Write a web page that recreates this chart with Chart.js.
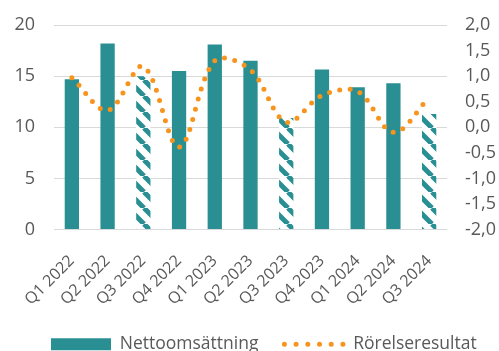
<!DOCTYPE html>
<html>
<head>
<meta charset="utf-8">
<script src="https://cdn.jsdelivr.net/npm/chart.js@4/dist/chart.umd.min.js"></script>
<style>
  html, body { margin: 0; padding: 0; background: #fff; overflow: hidden; }
  #wrap { width: 499px; height: 351px; overflow: hidden; }
</style>
</head>
<body>
<div id="wrap"><canvas id="chart" width="499" height="363"></canvas></div>
<script>
// quarters on the x axis
const quarters = ['Q1 2022', 'Q2 2022', 'Q3 2022', 'Q4 2022', 'Q1 2023', 'Q2 2023',
                  'Q3 2023', 'Q4 2023', 'Q1 2024', 'Q2 2024', 'Q3 2024'];
// Nettoomsättning (left axis)
const netSales = [14.7, 18.2, 15.0, 15.5, 18.1, 16.5, 10.9, 15.65, 13.9, 14.3, 11.3];
// Rörelseresultat (right axis)
const operatingResult = [0.97, 0.33, 1.19, -0.39, 1.3, 1.12, 0.1, 0.62, 0.7, -0.1, 0.58];
const leftTicks = [0, 5, 10, 15, 20];
const rightTicks = [-2.0, -1.5, -1.0, -0.5, 0.0, 0.5, 1.0, 1.5, 2.0];

const TEAL = '#2a8f93';
const ORANGE = '#f7941d';
const TEXT = '#595959';
const FONT = "'Open Sans', sans-serif";

// diagonal hatch for the Q3 bars
function makeHatch(color) {
    const size = 16;
    const c = document.createElement('canvas');
    c.width = size; c.height = size;
    const g = c.getContext('2d');
    g.fillStyle = '#ffffff';
    g.fillRect(0, 0, size, size);
    g.strokeStyle = color;
    g.lineWidth = 5;
    g.beginPath();
    for (let k = -1; k <= 1; k++) {
        g.moveTo(k * size, 0);
        g.lineTo(k * size + size, size);
    }
    g.stroke();
    return g.createPattern(c, 'repeat');
}

const hatch = makeHatch(TEAL);
const barColors = quarters.map(q => q.startsWith('Q3') ? hatch : TEAL);

const fmt = v => v.toFixed(1).replace('.', ',');

// legend in the original sits a bit right of the left edge
const legendShift = {
    id: 'legendShift',
    afterLayout(chart) {
        if (!chart.legend) return;
        chart.legend.left += 25;
        chart.legend.right += 25;
    }
};

// tick padding would otherwise push the plot area down
function noVertPad(s) {
    s.paddingTop = 0;
    s.paddingBottom = 0;
}

new Chart(document.getElementById('chart'), {
    plugins: [legendShift],
    data: {
        labels: quarters,
        datasets: [
            {
                type: 'bar',
                label: 'Nettoomsättning',
                data: netSales,
                backgroundColor: barColors,
                borderWidth: 0,
                barPercentage: 0.4,
                categoryPercentage: 1,
                pointStyle: 'rect',
                yAxisID: 'y',
                order: 1
            },
            {
                type: 'line',
                label: 'Rörelseresultat',
                data: operatingResult,
                borderColor: ORANGE,
                backgroundColor: ORANGE,
                borderWidth: 5,
                borderDash: [0, 10.5],
                borderCapStyle: 'round',
                tension: 0.35,
                pointRadius: 0,
                pointStyle: 'line',
                yAxisID: 'y1',
                order: 0
            }
        ]
    },
    options: {
        responsive: false,
        animation: false,
        layout: { padding: { top: 25, left: 0, right: 0, bottom: 0 } },
        plugins: {
            tooltip: { enabled: false },
            legend: {
                position: 'bottom',
                align: 'start',
                labels: {
                    usePointStyle: true,
                    pointStyleWidth: 60,
                    boxHeight: 12,
                    padding: 26,
                    color: TEXT,
                    font: { family: FONT, size: 17.5 },
                    sort: (a, b) => a.datasetIndex - b.datasetIndex,
                    generateLabels: chart => {
                        const items = Chart.defaults.plugins.legend.labels.generateLabels(chart);
                        items.forEach(it => {
                            const ds = chart.data.datasets[it.datasetIndex];
                            if (ds.type === 'line') {
                                it.lineDash = [0, 11.7];
                                it.lineCap = 'round';
                                it.lineWidth = 5;
                                it.strokeStyle = ORANGE;
                            }
                        });
                        return items;
                    }
                }
            }
        },
        scales: {
            x: {
                grid: { display: false },
                border: { display: false },
                ticks: {
                    color: TEXT,
                    font: { family: FONT, size: 16 },
                    maxRotation: 45,
                    minRotation: 45,
                    padding: 14
                },
                afterFit: s => { s.height = 80; }
            },
            y: {
                position: 'left',
                min: 0,
                max: 20,
                afterBuildTicks: s => { s.ticks = leftTicks.map(v => ({ value: v })); },
                grid: { color: '#d9d9d9', lineWidth: 1, drawTicks: false },
                border: { display: false },
                ticks: { color: TEXT, font: { family: FONT, size: 18 }, padding: 19 },
                afterFit: s => { s.width = 54; noVertPad(s); }
            },
            y1: {
                position: 'right',
                min: -2,
                max: 2,
                afterBuildTicks: s => { s.ticks = rightTicks.map(v => ({ value: v })); },
                grid: { display: false, drawTicks: false },
                border: { display: false },
                ticks: {
                    color: TEXT,
                    font: { family: FONT, size: 18 },
                    padding: 18,
                    callback: v => fmt(v)
                },
                afterFit: s => { s.width = 52; noVertPad(s); }
            }
        }
    }
});
</script>
</body>
</html>
